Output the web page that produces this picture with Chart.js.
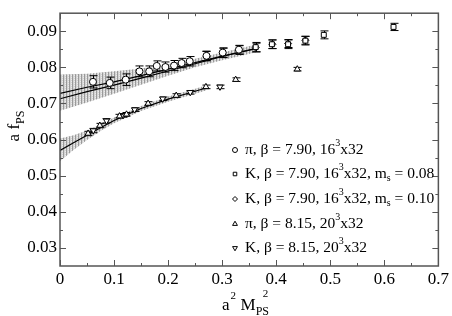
<!DOCTYPE html>
<html>
<head>
<meta charset="utf-8">
<script src="https://cdn.jsdelivr.net/npm/chart.js@4"></script>
<style>
html, body { margin: 0; padding: 0; background: #fff; }
</style>
</head>
<body>
<canvas id="fpsChart" width="452" height="316"></canvas>
<script>
// pi, beta = 7.90, 16^3x32 (circles)
const piAx = [0.061, 0.092, 0.1215, 0.147, 0.165, 0.179, 0.195, 0.211, 0.225, 0.240, 0.271, 0.301, 0.331];
const piAy = [0.0760, 0.0757, 0.0766, 0.0789, 0.0789, 0.0804, 0.0801, 0.0805, 0.0812, 0.0817, 0.0832, 0.0841, 0.0849];
const piAerr = [0.0017, 0.0016, 0.0016, 0.0015, 0.0015, 0.0014, 0.0014, 0.0014, 0.0013, 0.0013, 0.0013, 0.0013, 0.0012];

// K, beta = 7.90, ms = 0.08 (squares)
const kAx = [0.362, 0.392, 0.422, 0.454, 0.488, 0.617];
const kAy = [0.0856, 0.0864, 0.0864, 0.0874, 0.0890, 0.0912];
const kAerr = [0.0013, 0.0012, 0.0012, 0.0012, 0.0011, 0.0010];

// K, beta = 7.90, ms = 0.10 (diamonds)
const kBx = [0.271, 0.301, 0.331, 0.362, 0.393, 0.422, 0.454];
const kBy = [0.0831, 0.0840, 0.0848, 0.0855, 0.0864, 0.0866, 0.0875];
const kBerr = [0.0013, 0.0013, 0.0012, 0.0012, 0.0012, 0.0011, 0.0011];

// pi, beta = 8.15, 20^3x32 (up triangles)
const piBx = [0.052, 0.0737, 0.110, 0.123, 0.163, 0.215, 0.270, 0.325, 0.439];
const piBy = [0.0617, 0.0639, 0.0665, 0.0670, 0.0700, 0.0722, 0.0746, 0.0766, 0.0795];
const piBerr = [0.0006, 0.0006, 0.0005, 0.0005, 0.0005, 0.0005, 0.0005, 0.0005, 0.0005];

// K, beta = 8.15, 20^3x32 (down triangles)
const kCx = [0.0614, 0.086, 0.1166, 0.138, 0.190, 0.241, 0.296];
const kCy = [0.0625, 0.0652, 0.0667, 0.0683, 0.0713, 0.0731, 0.0746];
const kCerr = [0.0006, 0.0006, 0.0005, 0.0005, 0.0005, 0.0005, 0.0005];

// fit curves and error bands
const fitUx = [0, 0.05, 0.1, 0.15, 0.2, 0.25, 0.3, 0.363];
const fitUa = [0.0728, 0.0745, 0.0760, 0.0777, 0.0795, 0.0813, 0.0831, 0.0852];
const fitUb = [0.0713, 0.0733, 0.0751, 0.0770, 0.0790, 0.0810, 0.0830, 0.0853];
const bandUtop = [0.0780, 0.0782, 0.0789, 0.0797, 0.0809, 0.0824, 0.0841, 0.0863];
const bandUbot = [0.0680, 0.0703, 0.0727, 0.0752, 0.0777, 0.0800, 0.0820, 0.0842];

const fitLx = [0, 0.025, 0.05, 0.075, 0.1, 0.15, 0.2, 0.25, 0.27];
const fitLy = [0.0570, 0.0591, 0.0612, 0.0633, 0.0653, 0.0686, 0.0712, 0.0734, 0.0743];
const bandLtop = [0.0603, 0.0612, 0.0625, 0.0642, 0.0661, 0.0693, 0.0719, 0.0741, 0.0750];
const bandLbot = [0.0540, 0.0571, 0.0599, 0.0624, 0.0645, 0.0679, 0.0705, 0.0727, 0.0736];

const xTicks = [0, 0.1, 0.2, 0.3, 0.4, 0.5, 0.6, 0.7];
const yTicks = [0.03, 0.04, 0.05, 0.06, 0.07, 0.08, 0.09];

const legendLabels = [
    [['π, β = 7.90, 16'], ['3', 'sup'], ['x32']],
    [['K, β = 7.90, 16'], ['3', 'sup'], ['x32, m'], ['s', 'sub'], [' = 0.08']],
    [['K, β = 7.90, 16'], ['3', 'sup'], ['x32, m'], ['s', 'sub'], [' = 0.10']],
    [['π, β = 8.15, 20'], ['3', 'sup'], ['x32']],
    [['K, β = 8.15, 20'], ['3', 'sup'], ['x32']]
];

const SERIF = '"Liberation Serif", "Times New Roman", Times, "DejaVu Serif", serif';

function pts(xs, ys) {
    return xs.map((x, i) => ({ x: x, y: ys[i] }));
}

// grey hatched fill like the original bands
const pc = document.createElement('canvas');
pc.width = 3; pc.height = 2;
const pctx = pc.getContext('2d');
pctx.fillStyle = '#d4d4d4'; pctx.fillRect(0, 0, 3, 2);
pctx.fillStyle = '#9a9a9a'; pctx.fillRect(0, 0, 1, 2);
pctx.fillStyle = '#ececec'; pctx.fillRect(2, 1, 1, 1);
const hatch = pctx.createPattern(pc, 'repeat');

function band(xs, ys, fill) {
    return {
        data: pts(xs, ys), showLine: true, pointRadius: 0, borderWidth: 0,
        borderColor: 'rgba(0,0,0,0)', backgroundColor: hatch, fill: fill, order: 10
    };
}

function fitLine(xs, ys) {
    return {
        data: pts(xs, ys), showLine: true, pointRadius: 0, borderWidth: 1.2,
        borderColor: '#000', fill: false, order: 5
    };
}

function marks(xs, ys, errs, style, rot, r) {
    return {
        data: pts(xs, ys), errors: errs, showLine: false,
        pointStyle: style, rotation: rot, pointRadius: r,
        pointBackgroundColor: '#fff', pointBorderColor: '#000', pointBorderWidth: 1,
        order: 1
    };
}

const legendMarks = [['circle', 0, 2.5], ['rect', 0, 2.5], ['rectRot', 0, 2.5], ['triangle', 0, 2.8], ['triangle', 180, 2.8]];

const errorBars = {
    id: 'errorBars',
    beforeDatasetDraw(chart, args) {
        const ds = chart.data.datasets[args.index];
        if (!ds.errors) return;
        const xs = chart.scales.x, ys = chart.scales.y, c = chart.ctx;
        c.save();
        c.strokeStyle = '#000';
        c.lineWidth = 1;
        ds.data.forEach((p, i) => {
            const px = Math.round(xs.getPixelForValue(p.x)) + 0.5;
            const top = ys.getPixelForValue(p.y + ds.errors[i]);
            const bot = ys.getPixelForValue(p.y - ds.errors[i]);
            c.beginPath();
            c.moveTo(px, top); c.lineTo(px, bot);
            c.moveTo(px - 4, top); c.lineTo(px + 4, top);
            c.moveTo(px - 4, bot); c.lineTo(px + 4, bot);
            c.stroke();
        });
        c.restore();
    }
};

function drawParts(c, parts, x, y, size) {
    parts.forEach(p => {
        if (p[1] === 'sup') {
            c.font = Math.round(size * 0.65) + 'px ' + SERIF;
            c.fillText(p[0], x, y - size * 0.42);
        } else if (p[1] === 'sub') {
            c.font = Math.round(size * 0.65) + 'px ' + SERIF;
            c.fillText(p[0], x, y + size * 0.25);
        } else {
            c.font = size + 'px ' + SERIF;
            c.fillText(p[0], x, y);
        }
        x += c.measureText(p[0]).width;
    });
    return x;
}

const frame = {
    id: 'frame',
    afterDraw(chart) {
        const c = chart.ctx, a = chart.chartArea;
        const xs = chart.scales.x, ys = chart.scales.y;
        c.save();
        c.strokeStyle = '#555';
        c.lineWidth = 1.5;
        c.strokeRect(a.left, a.top, a.right - a.left, a.bottom - a.top);
        c.lineWidth = 1;
        c.beginPath();
        for (let i = 0; i <= 14; i++) {
            const v = i * 0.05;
            const px = Math.round(xs.getPixelForValue(v)) + 0.5;
            const len = i % 2 === 0 ? 6 : 3;
            c.moveTo(px, a.bottom); c.lineTo(px, a.bottom - len);
            c.moveTo(px, a.top); c.lineTo(px, a.top + len);
        }
        for (let i = 6; i <= 18; i++) {
            const v = i * 0.005;
            const py = Math.round(ys.getPixelForValue(v)) + 0.5;
            const len = i % 2 === 0 ? 6 : 3;
            c.moveTo(a.left, py); c.lineTo(a.left + len, py);
            c.moveTo(a.right, py); c.lineTo(a.right - len, py);
        }
        c.stroke();

        // legend
        c.fillStyle = '#000';
        c.textBaseline = 'middle';
        c.textAlign = 'left';
        const rowsY = [150, 174, 199, 224, 248];
        legendLabels.forEach((parts, i) => {
            const m = legendMarks[i];
            c.fillStyle = '#fff';
            c.strokeStyle = '#000';
            c.lineWidth = 1;
            Chart.helpers.drawPoint(c, { pointStyle: m[0], rotation: m[1], radius: m[2], borderWidth: 1 }, 235, rowsY[i]);
            c.fillStyle = '#000';
            drawParts(c, parts, 245, rowsY[i], 15.5);
        });

        // x title: a^2 M_PS^2
        c.textBaseline = 'alphabetic';
        let x = 222;
        c.font = '17px ' + SERIF;
        c.fillText('a', x, 310);
        x += c.measureText('a').width + 1;
        c.font = '11px ' + SERIF;
        c.fillText('2', x, 299);
        x += 10;
        c.font = '17px ' + SERIF;
        c.fillText('M', x, 310);
        x += c.measureText('M').width;
        c.font = '12px ' + SERIF;
        c.fillText('PS', x, 315);
        c.font = '11px ' + SERIF;
        c.fillText('2', x + 7, 297);

        // y title: a f_PS
        c.translate(19, 126);
        c.rotate(-Math.PI / 2);
        c.textAlign = 'left';
        c.font = '17px ' + SERIF;
        const w1 = c.measureText('a f').width;
        c.font = '12px ' + SERIF;
        const w2 = c.measureText('PS').width;
        let sx = -(w1 + w2) / 2;
        c.font = '17px ' + SERIF;
        c.fillText('a f', sx, 0);
        c.font = '12px ' + SERIF;
        c.fillText('PS', sx + w1, 5);
        c.restore();
    }
};

const ctx = document.getElementById('fpsChart');

new Chart(ctx, {
    type: 'scatter',
    data: {
        datasets: [
            band(fitUx, bandUtop, '+1'),
            band(fitUx, bandUbot, false),
            band(fitLx, bandLtop, '+1'),
            band(fitLx, bandLbot, false),
            fitLine(fitUx, fitUa),
            fitLine(fitUx, fitUb),
            fitLine(fitLx, fitLy),
            marks(piAx, piAy, piAerr, 'circle', 0, 3.5),
            marks(kAx, kAy, kAerr, 'rect', 0, 3.5),
            marks(kBx, kBy, kBerr, 'rectRot', 0, 3.5),
            marks(piBx, piBy, piBerr, 'triangle', 0, 3.5),
            marks(kCx, kCy, kCerr, 'triangle', 180, 3.5)
        ]
    },
    options: {
        responsive: false,
        animation: false,
        layout: { padding: { left: 0, right: 12, top: 2, bottom: 0 } },
        plugins: { legend: { display: false }, tooltip: { enabled: false } },
        scales: {
            x: {
                type: 'linear', min: 0, max: 0.7,
                grid: { display: false, drawTicks: false },
                border: { display: false },
                afterFit(s) { s.height = 50; },
                afterBuildTicks(s) { s.ticks = xTicks.map(v => ({ value: v })); },
                ticks: {
                    padding: 3,
                    color: '#000', font: { family: SERIF, size: 17 },
                    callback: v => v === 0 ? '0' : v.toFixed(1)
                }
            },
            y: {
                type: 'linear', min: 0.025, max: 0.095,
                grid: { display: false, drawTicks: false },
                border: { display: false },
                afterFit(s) { s.width = 60; },
                afterBuildTicks(s) { s.ticks = yTicks.map(v => ({ value: v })); },
                ticks: {
                    padding: 3,
                    color: '#000', font: { family: SERIF, size: 17 },
                    callback: v => v.toFixed(2)
                }
            }
        }
    },
    plugins: [errorBars, frame]
});
</script>
</body>
</html>
